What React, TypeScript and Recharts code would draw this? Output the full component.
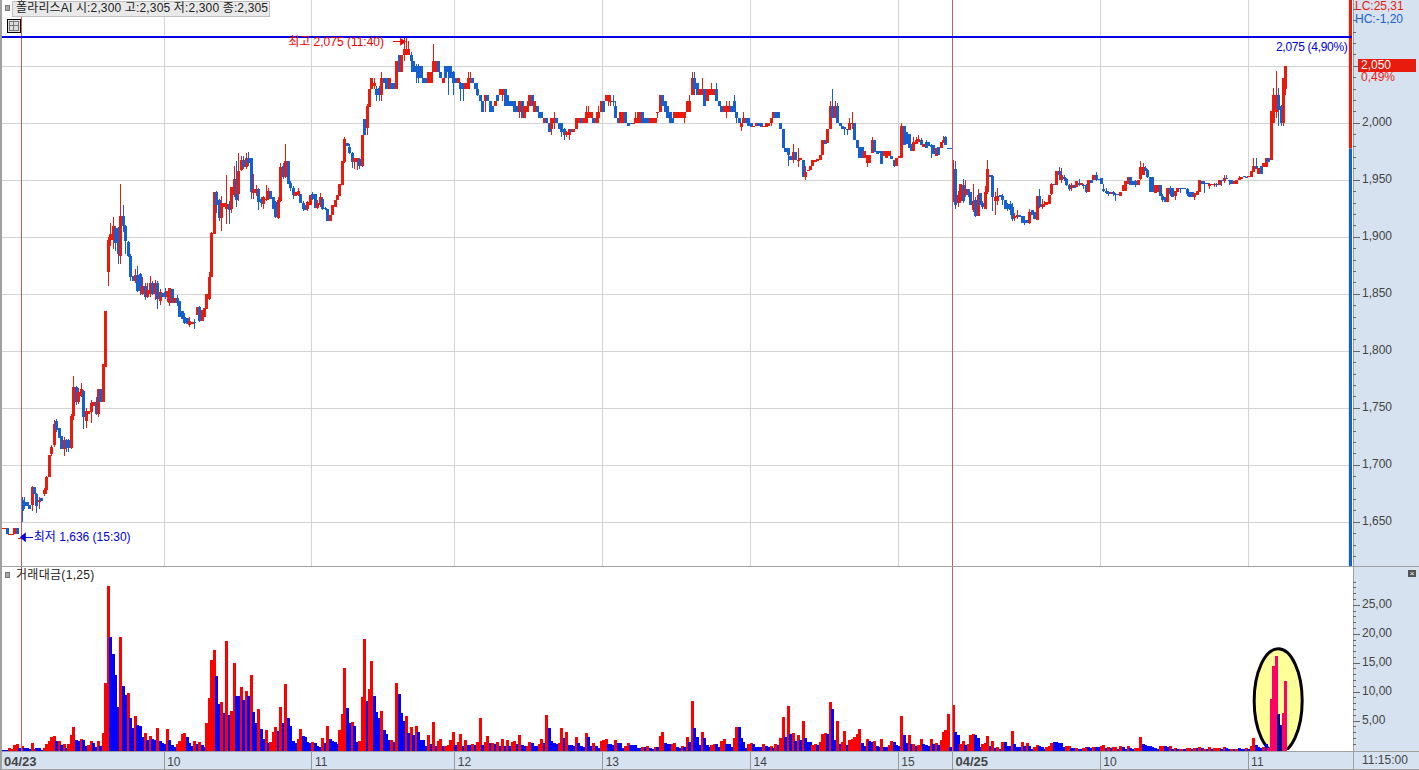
import { Bar, CartesianGrid, ComposedChart, ReferenceArea, ReferenceDot, ReferenceLine, XAxis, YAxis } from "recharts"

const WIDTH = 1419
const RED = "#e81b0c"
const BLUE = "#1560d0"
const FONT = '"Liberation Sans","Noto Sans CJK KR",sans-serif'

// candles: [open, close, high?, low?] - high/low default to the body
const prevDay = [[1645,1645],[1645,1645],[1645,1640],[1640,1640],[1640,1640],[1640,1645],[1645,1640],[1636,1636]]
const am09 = [
  [1670,1660,1672,1650],[1668,1664,1672,1662],[1668,1664],[1665,1662],[1665,1681,1682,1660],[1681,1675],[1675,1664,1676,1658],[1668,1670,1672,1662],[1671,1669],[1675,1678,1680,1673],
  [1678,1690,1691,1675],[1690,1709],[1710,1716,1718,1708],[1718,1736,1740,1716],[1739,1731,1741,1729],[1733,1724],[1726,1714],[1714,1722,1725,1708],[1722,1715,1723,1712],[1722,1715,1723,1712],
  [1715,1743,1745,1714],[1743,1769,1778,1740],[1769,1756,1770,1753],[1756,1764,1768,1754],[1761,1767,1772,1760],[1765,1742,1766,1732],[1739,1748,1750,1733],[1745,1748],[1747,1755,1757,1737],[1752,1756],
  [1756,1745,1760,1744],[1745,1767,1767,1742],[1767,1756],[1756,1789],[1786,1835],[1870,1898,1900,1857],[1898,1903,1913,1892],[1898,1910,1918,1890],[1908,1895,1910,1888],[1908,1885,1909,1877],
  [1884,1919,1947,1877],[1919,1910,1928,1905],[1910,1897,1911,1885],[1896,1884,1897,1883],[1884,1865,1885,1862],[1866,1862],[1862,1867,1872,1860],[1867,1853,1875,1852],[1868,1853,1869,1849],[1850,1857,1865,1849],
  [1857,1848,1860,1845],[1848,1854,1860,1847],[1850,1860,1866,1848],[1860,1850,1862,1849],[1850,1860,1863,1845],[1860,1846,1862,1837],[1844,1852,1855,1841],[1851,1848],
]
const am10 = [
  [1852,1848,1856,1846],[1848,1853,1853,1843],[1842,1856,1856,1840],[1855,1842],[1842,1847],[1847,1842,1849,1840],[1844,1830],[1835,1828],[1830,1825,1834,1824],[1829,1824],
  [1823,1827,1830,1821],[1824,1826],[1826,1825,1828,1820],[1832,1839],[1839,1827,1840,1826],[1827,1836],[1830,1838],[1837,1850],[1846,1865,1870,1845],[1865,1904,1905,1865],
  [1903,1940],[1940,1928,1941,1921],[1933,1917,1934,1914],[1917,1930,1936,1906],[1927,1930],[1925,1929,1955,1912],[1929,1924,1932,1912],[1925,1944,1944,1921],[1937,1951,1963,1935],[1951,1933,1967,1927],
  [1938,1958,1974,1932],[1959,1968,1971,1958],[1968,1962,1971,1960],[1962,1970,1974,1960],[1970,1965,1975,1963],[1970,1940,1970,1934],[1939,1942,1956,1934],[1939,1942,1946,1936],[1942,1931,1943,1924],[1934,1930,1935,1927],
  [1929,1935,1936,1925],[1933,1934,1946,1932],[1934,1941,1943,1933],[1941,1934],[1935,1925],[1931,1918,1932,1917],[1917,1933,1935,1916],[1932,1962,1965,1931],[1963,1953,1965,1951],[1953,1967,1982,1952],
  [1967,1947],[1948,1943,1949,1941],[1943,1937,1945,1934],[1936,1940],[1937,1941,1943,1936],[1938,1930],[1930,1925,1932,1923],[1928,1924],[1925,1931,1932,1923],[1928,1937],
]
const am11 = [
  [1938,1934,1940,1933],[1938,1926],[1926,1930,1933,1925],[1928,1935,1939,1927],[1934,1925,1935,1924],[1926,1925,1927,1924],[1925,1914],[1914,1920],[1920,1928],[1927,1933],
  [1933,1937],[1936,1947],[1946,1967],[1966,1986,1988,1965],[1983,1980],[1979,1974,1982,1973],[1974,1966,1975,1961],[1966,1970,1970,1960],[1966,1970,1970,1959],[1969,1963,1970,1960],
  [1963,1990,1990,1962],[2004,1990],[1996,2015,2017,1990],[2014,2030],[2030,2040],[2033,2035,2040,2030],[2030,2025,2033,2020],[2031,2025,2033,2020],[2025,2040,2045,2020],[2040,2035],
  [2040,2030],[2030,2040],[2035,2030],[2035,2030],[2030,2055],[2060,2045],[2045,2060],[2060,2065,2075,2055],[2060,2065,2076,2060],[2060,2065,2072,2060],
  [2060,2055,2063,2045],[2055,2045],[2050,2045,2052,2035],[2050,2040,2052,2035],[2050,2040],[2040,2035],[2040,2035],[2035,2045],[2035,2045],[2045,2055,2070,2045],
  [2045,2055],[2055,2045],[2045,2040],[2035,2040],[2050,2040],[2050,2045,2050,2025],[2050,2040],[2045,2035,2046,2025],
]
const pm12 = [
  [2040,2035],[2035,2040],[2035,2030,2036,2020],[2035,2030,2035,2020],[2030,2035],[2030,2040,2045,2030],[2035,2040,2045,2035],[2040,2035],[2035,2030],[2030,2025,2035,2024],
  [2025,2020],[2020,2010],[2020,2025,2025,2010],[2025,2020],[2020,2010],[2015,2010],[2015,2020],[2025,2020],[2025,2030],[2025,2030,2030,2020],
  [2030,2015],[2025,2015],[2020,2015],[2020,2015],[2020,2010],[2015,2010],[2010,2020,2020,2005],[2020,2005],[2005,2015],[2010,2015,2020,2010],
  [2015,2025],[2025,2015],[2010,2020],[2015,2010],[2010,2005],[2010,2005],[2000,2005],[2005,2000],[2000,1992],[1995,2005,2005,1990],
  [2000,2005,2010,1995],[2005,2000],[2000,1995],[2000,1992,2000,1988],[1995,1990,1996,1985],[1990,1992,1993,1988],[1990,1995,1995,1985],[1995,1992],[1992,1995],[1995,2005],
  [2000,2005],[2005,2000],[2000,2005],[2000,2010,2015,2000],[2005,2010,2015,2005],[2005,2010],[2005,2000],[2000,2005,2010,2000],[2005,2010,2015,2000],[2010,2020],
]
const pm13 = [
  [2020,2010],[2020,2025],[2020,2025,2025,2015],[2020,2020,2025,2015],[2020,2019,2025,2015],[2015,2005,2020,2005],[2005,2000],[2000,2010],[2000,2010],[2010,2000],
  [2000,1998],[2000,1999],[2000,2000],[2000,2005,2010,2000],[2000,2010],[2005,2005,2010,2000],[2010,2000],[2005,2000],[2005,2000],[2000,2005],
  [2000,2005],[2000,2005],[2010,2010,2010,2005],[2010,2025],[2025,2015],[2020,2010],[2015,2005],[2010,2000],[2005,2000],[2005,2010],
  [2005,2010],[2005,2010],[2005,2010],[2005,2010,2010,2000],[2010,2020],[2010,2020,2025,2010],[2025,2040,2045,2025],[2040,2030,2045,2025],[2035,2025],[2025,2030],
  [2025,2030,2040,2025],[2030,2015],[2020,2030],[2025,2030],[2025,2030,2035,2025],[2025,2030],[2030,2020,2035,2020],[2020,2015],[2015,2010],[2010,2015],
  [2010,2015,2020,2005],[2010,2015,2020,2010],[2015,2010],[2020,2010,2025,2010],[2010,2005,2010,2000],[2005,2000],[1997,2000,2000,1993],[2000,2005,2010,2000],[2005,2000],[2005,1998],
]
const pm14 = [
  [2000,1997],[1997,1998],[1998,2000],[2000,1998],[2000,1997],[1997,1998],[1997,2000],[1998,2000],[2000,2005,2005,1998],[2005,2010],
  [2010,2005],[2010,2005],[2000,1995],[1995,1978],[1978,1975],[1978,1972,1978,1963],[1971,1968],[1968,1975,1982,1965],[1975,1968],[1967,1968,1978,1962],
  [1968,1970],[1968,1953],[1953,1957,1963,1950],[1958,1959],[1959,1963],[1963,1968],[1966,1968],[1967,1969],[1968,1972],[1972,1985],
  [1985,1982],[1983,1995],[1995,2015,2020,1995],[2015,2005,2030,2005],[2005,2015,2020,2005],[2015,2000,2018,2000],[2000,1998],[1998,1995],[1997,1995,1997,1990],[1995,1994,1995,1990],
  [1994,2000,2005,1994],[2000,2000,2010,1995],[2000,1985],[1985,1978],[1979,1970],[1979,1970],[1970,1976],[1965,1972,1972,1962],[1965,1972],[1974,1985,1988,1974],
  [1985,1975],[1976,1973],[1976,1974],[1976,1964],[1971,1976],[1970,1976],[1971,1976],[1971,1969],[1968,1963,1968,1962],[1963,1970],
]
const pm15 = [
  [1970,1971],[1970,1998,2000,1970],[1998,1981],[1992,1982],[1991,1978],[1982,1976],[1976,1984,1988,1976],[1982,1985,1988,1982],[1984,1986,1990,1984],[1985,1981,1987,1981],
  [1979,1982],[1984,1978,1985,1978],[1984,1980],[1981,1979,1982,1970],[1981,1973],[1971,1978],[1979,1972],[1978,1984],[1984,1985,1989,1983],[1988,1981,1989,1981],
  [1978.5,1978],[1978.5,1978],
]
const next09 = [
  [1934,1960,1968,1931],[1960,1928,1967,1925],[1930,1937,1941,1927],[1932,1947,1947,1930],[1946,1932,1951,1930],[1937,1942,1950,1935],[1942,1937,1942,1935],[1940,1928],[1924,1932,1947,1922],[1933,1919,1935,1918],
  [1919,1937,1942,1919],[1939,1928],[1930,1927,1932,1925],[1925,1940,1945,1925],[1940,1960,1968,1938],[1955,1953],[1954,1935,1955,1923],[1932,1935,1940,1920],[1932,1936,1943,1928],[1937,1935],
  [1936,1933,1938,1928],[1933,1925],[1929,1925,1930,1923],[1929,1924,1932,1920],[1927,1916,1930,1914],[1917,1919,1921,1914],[1918,1920,1924,1916],[1920,1918],[1919,1913],[1915,1913,1919,1911],
  [1915,1913],[1913,1922,1925,1912],[1924,1920],[1922,1916],[1915,1936],[1936,1927,1942,1926],[1927,1929,1934,1925],[1928,1929,1932,1927],[1928,1931],[1929,1937],
  [1938,1947,1948,1937],[1947,1946],[1946,1958],[1958,1955,1962,1950],[1950,1955,1961,1948],[1953,1951,1955,1949],[1951,1946,1952,1945],[1946,1942,1947,1941],[1943,1946,1948,1941],[1946,1943],
  [1944,1949],[1948,1946,1951,1945],[1946,1948],[1946,1945,1947,1942],[1946,1940,1947,1939],[1940,1950],[1950,1948],[1950,1955],[1955,1950,1957,1949],[1951.5,1951],
]
const next10 = [
  [1952,1947],[1942,1941,1947,1940],[1941,1939,1943,1938],[1940,1938,1941,1936],[1938,1940],[1940,1938,1941,1936],[1938,1937,1939,1932],[1938,1937],[1936,1940],[1941,1946],
  [1941,1949],[1947,1953],[1953,1946],[1949,1946],[1949,1946,1950,1944],[1946,1950],[1951,1962,1967,1950],[1955,1962,1965,1955],[1961,1958,1963,1958],[1959,1953,1960,1952],
  [1953,1940],[1953,1940],[1939,1946],[1940,1946],[1946,1936],[1936,1933,1938,1931],[1935,1931],[1931,1943],[1943,1938,1945,1936],[1943,1935],
  [1936,1941,1941,1933],[1940,1943],[1943,1942,1943,1939],[1943,1942],[1943,1942],[1942,1938,1943,1936],[1940,1935],[1940,1935],[1935,1939,1939,1933],[1937,1941],
  [1940,1950],[1949,1947],[1948,1947,1949,1939],[1947.5,1947],[1945,1947,1948,1942],[1946,1947],[1946,1947,1948,1944],[1947,1946,1948,1944],[1946,1950],[1950,1949,1950,1945],
  [1949,1952,1955,1948],[1952,1951,1955,1951],[1950,1949,1950,1946],[1950,1947],[1947,1949],[1947,1950],[1950,1952,1954,1950],[1951,1953],[1954,1953],[1953,1952],
]
const next11 = [
  [1953,1954],[1953,1958],[1957,1963,1970,1957],[1963,1960,1970,1960],[1956,1961],[1963,1956],[1962,1965],[1962,1970],[1970,1966],[1968,2011],
  [2000,2025,2031,2000],[2010,2025,2046,2005],[2025,2012,2031,1998],[2015,2000,2016,1998],[2000,2040,2040,1998],[2030,2050,2050,2025],
]

// traded value per candle, positive = up bar (red), negative = down bar (blue)
const vol09 = [
  -.1,-.1,-.1,.3,.2,.9,1,-.3,.7,-.3,-.3,-.2,1.2,.2,-.3,-.3,-.1,.3,1,1.6,
  2.3,2.5,-1.6,1.6,-.9,1,-.3,1,2.6,4,-1.7,-1.6,1.9,-1.7,-.7,.9,1.6,-1.2,-.5,1.6,
  -.7,2.9,11.6,28.3,-19.6,-16.6,-13,-7.5,19.6,-11.1,-9.5,9.9,-5.5,-3.8,5.9,-4.3,-4.2,-2.3,2.9,-1.7,
  2.4,-1.9,-1.7,3.8,-1.6,-1.2,
]
const vol10 = [
  -1,3.6,-1.7,-.9,-.5,1,1.6,2.8,2.9,-2.3,-1.2,-.7,1.6,-1,1.4,-.9,-.5,4.7,9,15.6,
  17.3,-12.8,-8,8.3,-6.4,18.9,-6.1,6.8,15,-9.4,-9.4,10.9,-8.7,10.2,-9.4,13,-6.6,-4.7,7.1,-3.6,
  -1.9,3.5,-1.2,1.4,3.1,4,-3.3,7.5,-4.7,11.4,-5.5,-4.2,-1.6,-1.2,1.9,3.6,-2.4,-2.3,-1.4,-1.2,
]
const vol11 = [
  1.4,-1.2,-.7,-.5,2.1,-1.2,4.2,-1.9,-1.6,-1.4,-1,3.5,6.2,14.2,-7.3,-4.7,4.9,-4.2,-1.4,1.6,
  9.2,19.1,-8.5,10.6,15.3,-9.4,-6.6,-5.5,6.8,-3.5,-2.8,-1.7,1.7,-1.4,11.6,-9.7,-6.4,-5,5.9,-2.9,
  4,-2.6,4.2,-3.1,-1.7,-1.7,-.7,2.6,-1,4.9,-.7,1.6,1.9,-.7,.7,.9,1.7,3.1,
]
const vol12 = [
  -.9,1.4,2.8,-.7,1.7,-.9,-.9,1,-.9,1.4,5.5,-.9,1.4,2.4,-1.2,1.2,-1,1.4,-.7,1.9,
  -.7,1.7,-.7,1.4,1.6,-1,2.6,-.9,-.7,.7,1.4,-1.2,-.7,-.7,1,1.9,-1.2,6.1,-3.8,-1.6,
  -1.2,-1,1.2,3.8,-2.1,3.1,-.9,-.9,-.7,2.3,-1.2,-.7,-.5,2.9,-2.3,-.7,1.2,-.7,-.3,1.6,
]
const vol13 = [
  1.7,1.9,-1,-1,-.9,1.7,-1.2,-1.2,-.3,.7,1.2,-.9,-.9,-.9,-.3,-.3,.5,-.5,.7,-.3,
  -.2,.5,-.5,2.4,3.1,-1.2,-1,-1,1,1.2,-.5,-.3,.7,-.5,2.3,-1.4,8.5,-3.8,-2.3,-.9,
  3.1,-2.1,-.9,-.5,.9,1,-1,-.5,1.6,1.9,-1,-1,-.5,2.1,4,-4,-2.1,-1.4,-.3,1,
]
const vol14 = [
  1.2,-1,-.5,-.5,-.5,1,-.7,-.5,.7,-.3,1,-.9,2.1,5.7,-2.3,7.6,-2.8,2.9,-1.6,2.6,
  -1.7,5,-2.1,-1.4,-1.4,.9,1,-.9,1.4,2.8,2.9,-2.8,8.3,-7.1,-1.7,5,-1,1.4,3.3,-.9,
  1.7,1.9,2.3,2.8,3.6,-1.2,-.7,1.9,-1.6,-1.4,1.6,-.7,-.5,1.9,-.5,-.5,.9,1.6,-1.4,-.9,
]
const vol15 = [-.7,5.9,-2.6,-1.2,2.6,-1,1,-.7,.9,1.9,-1,-.9,-.7,1.9,-1,1.2,-.9,1.7,3.1,3.5,6.2,-.5]
const volNext09 = [
  7.8,-3.1,-2.6,1,1.6,-.9,1,2.6,2.8,-2.6,-2.1,-.5,1,1.2,2.4,-.7,1.6,-.3,.5,-.2,
  1.4,-1.4,-.7,-.7,3.3,-1,-.5,-.5,1.4,-.7,1.2,-.7,-.2,.5,.9,-.7,-.5,-.2,.5,.7,
  1.2,-1.4,-1.4,-1.2,-1.2,-.5,.7,.7,-.3,-.3,.3,-.2,-.2,.3,.5,-.5,-.3,.5,-.5,-.5,
]
const volNext10 = [
  .7,.9,-.3,.5,-.3,.5,.5,-.2,.7,-.5,-.2,.7,-.3,-.2,.3,.3,2.3,-1,-.9,-.7,
  -.7,-.5,-.3,-.2,.7,.7,-.7,-.5,.7,-.2,.3,-.2,.2,.2,-.2,.3,.3,-.2,.3,-.3,
  .5,-.3,.2,-.2,.5,-.2,.3,.3,.3,-.2,.5,-.3,-.2,.2,-.2,.2,-.3,-.2,-.2,.3,
]
const volNext11 = [-.2,.7,2.1,-.9,-.5,-.3,.5,-1,.3,8.8,14.6,16.3,-6.2,-4.3,6.4,12]

const gridTimes = [8, 66, 126, 184, 244, 304, 364, 386, 446, 506]
const timeLabels = { 1: "04/23", 66: "10", 126: "11", 184: "12", 244: "13", 304: "14", 364: "15", 386: "04/25", 446: "10", 506: "11" }
const dayLabels = [1, 386]
const dayStarts = [8, 386]
const timeTicks = [1, 66, 126, 184, 244, 304, 364, 386, 446, 506]
const priceGrid = [1650, 1700, 1750, 1800, 1850, 1900, 1950, 2000, 2050]
const priceLabels = [1650, 1700, 1750, 1800, 1850, 1900, 1950, 2000]
const priceTicks = [1620,1630,1640,1650,1660,1670,1680,1690,1700,1710,1720,1730,1740,1750,1760,1770,1780,1790,1800,1810,1820,1830,1840,1850,1860,1870,1880,1890,1900,1910,1920,1930,1940,1950,1960,1970,1980,1990,2000,2010,2020,2030,2040,2050,2060,2070,2080,2090,2100]
const valueGrid = [5, 10, 15, 20, 25]
const valueTicks = [1,2,3,4,5,6,7,8,9,10,11,12,13,14,15,16,17,18,19,20,21,22,23,24,25,26,27,28,29]

const candleRows = [...prevDay, ...am09, ...am10, ...am11, ...pm12, ...pm13, ...pm14, ...pm15, ...next09, ...next10, ...next11]
const volumes = [...vol09, ...vol10, ...vol11, ...vol12, ...vol13, ...vol14, ...vol15, ...volNext09, ...volNext10, ...volNext11]

const chartData = candleRows.map((row, i) => {
  const [open, close] = row
  const high = row[2] ?? Math.max(open, close)
  const low = row[3] ?? Math.min(open, close)
  return { i, open, close, high, low, range: [low, high], value: Math.abs(volumes[i] ?? 0), up: (volumes[i] ?? 0) > 0 }
})

const X_DOMAIN = [0.17, 548.17]
const PRICE_DOMAIN = [1611.7, 2108.2]
const PRICE_H = 566
const PX_PER_WON = PRICE_H / (PRICE_DOMAIN[1] - PRICE_DOMAIN[0])
const PLOT_RIGHT = 1352
const VALUE_DOMAIN = [-0.15, 31.6]
const VOL_PLOT_BOTTOM = 184
const highlightFrom = 514

function Candle(props: any) {
  const { x, y, width, payload } = props
  const cx = Math.round(x + width / 2 + 0.5)
  const yOf = (v: number) => y + (payload.high - v) * PX_PER_WON
  const up = payload.close >= payload.open
  const color = up ? RED : BLUE
  const top = Math.round(yOf(Math.max(payload.open, payload.close)))
  const bottom = Math.round(yOf(Math.min(payload.open, payload.close)))
  return (
    <g>
      <rect x={cx} y={Math.round(yOf(payload.high))} width={1} height={Math.max(1, Math.round(yOf(payload.low)) - Math.round(yOf(payload.high)))} fill={color} />
      <rect x={cx - 1} y={top} width={3} height={Math.max(1, bottom - top)} fill={color} />
    </g>
  )
}

function VolumeBar(props: any) {
  const { x, y, width, height, payload } = props
  const cx = Math.round(x + width / 2 + 0.5)
  const fill = payload.i >= highlightFrom ? (payload.up ? "#ff0066" : "#000099") : payload.up ? "#ff0000" : "#0000ff"
  const top = Math.round(y)
  return <rect x={cx - 1} y={top} width={3} height={Math.max(1, Math.round(y + height) - top + 1)} fill={fill} />
}

function PriceTick(props: any) {
  const { y, payload } = props
  const major = payload.value % 50 === 0
  return (
    <g>
      <line x1={PLOT_RIGHT + 1} x2={PLOT_RIGHT + (major ? 8 : 4)} y1={y} y2={y} stroke="#666" />
      {priceLabels.includes(payload.value) && <text x={1362} y={y + 3} fontSize={12} fill="#444" fontFamily={FONT}>{payload.value.toLocaleString("en-US")}</text>}
    </g>
  )
}

function ValueTick(props: any) {
  const { y, payload } = props
  const major = valueGrid.includes(payload.value)
  return (
    <g>
      <line x1={PLOT_RIGHT + 1} x2={PLOT_RIGHT + (major ? 8 : 4)} y1={y} y2={y} stroke="#666" />
      {major && <text x={1362} y={y + 3} fontSize={12} fill="#444" fontFamily={FONT}>{payload.value},00</text>}
    </g>
  )
}

function TimeTick(props: any) {
  const { x, y, payload } = props
  const bold = dayLabels.includes(payload.value)
  const showLine = payload.value !== 1
  return (
    <g>
      {showLine && <line x1={x} x2={x} y1={y} y2={y + 19} stroke="#999" />}
      <text x={bold && !showLine ? x : x + 3} y={y + 14} fontSize={bold ? 13 : 12} fontWeight={bold ? 700 : 400} fill="#444" fontFamily={FONT}>
        {(timeLabels as any)[payload.value]}
      </text>
    </g>
  )
}

function Arrow({ cx, cy, text, color, side }: any) {
  // small annotation: label text with an arrow pointing at the extreme candle
  if (side === "left") {
    return (
      <g>
        <text x={cx - 119} y={cy + 8} fontSize={12} fill={color} fontFamily={FONT}>{text}</text>
        <line x1={cx - 14} x2={cx - 2} y1={cy + 4} y2={cy + 4} stroke={color} />
        <polygon points={`${cx - 1},${cy + 4} ${cx - 7},${cy} ${cx - 7},${cy + 8}`} fill={color} />
      </g>
    )
  }
  return (
    <g>
      <line x1={cx + 1} x2={cx + 13} y1={cy - 1} y2={cy - 1} stroke={color} />
      <polygon points={`${cx},${cy - 1} ${cx + 6},${cy - 6} ${cx + 6},${cy + 4}`} fill={color} />
      <text x={cx + 14} y={cy + 3} fontSize={12} fill={color} fontFamily={FONT}>{text}</text>
    </g>
  )
}

function Highlight({ cx, cy }: any) {
  return (
    <g>
      <clipPath id="vol-clip">
        <rect x={cx - 40} y={0} width={80} height={VOL_PLOT_BOTTOM} />
      </clipPath>
      <ellipse cx={cx} cy={cy} rx={24} ry={52} fill="#ffff99" stroke="#000" strokeWidth={3} clipPath="url(#vol-clip)" />
    </g>
  )
}

export default function App() {
  const abs = (left: number, top: number, extra: any = {}) => ({ position: "absolute" as const, left, top, fontFamily: FONT, fontSize: 12, lineHeight: "13px", whiteSpace: "nowrap" as const, ...extra })
  const volMargin = { top: 1, right: 0, bottom: 0, left: 2 }
  return (
    <div style={{ position: "absolute", left: 0, top: 0, width: WIDTH, height: 770, overflow: "hidden", background: "#fff" }}>
      <style>{`svg line, svg rect { shape-rendering: crispEdges; }`}</style>

      <div style={{ position: "absolute", left: 1354, top: 0, width: 65, height: 770, background: "#d6e2f0" }} />
      <div style={{ position: "absolute", left: 0, top: 752, width: WIDTH, height: 18, background: "#d6e2f0" }} />
      <div style={{ position: "absolute", left: 0, top: 0, width: 2, height: 770, background: "#a0a0a0" }} />
      <div style={{ position: "absolute", left: 0, top: 566, width: WIDTH, height: 1, background: "#a0a0a0" }} />
      <div style={{ position: "absolute", left: 0, top: 751, width: WIDTH, height: 1, background: "#a0a0a0" }} />
      <div style={{ position: "absolute", left: 0, top: 769, width: WIDTH, height: 1, background: "#a0a0a0" }} />
      <div style={{ position: "absolute", left: 1353, top: 0, width: 1, height: 770, background: "#a0a0a0" }} />

      <div style={{ position: "absolute", left: 0, top: 0 }}>
        <ComposedChart width={WIDTH} height={PRICE_H} data={chartData} margin={{ top: 0, right: 0, bottom: 0, left: 2 }}>
          <CartesianGrid stroke="#d3d3d3" horizontalValues={priceGrid} verticalValues={gridTimes} />
          <XAxis dataKey="i" type="number" domain={X_DOMAIN} allowDataOverflow hide />
          <YAxis orientation="right" width={67} domain={PRICE_DOMAIN} allowDataOverflow ticks={priceTicks} interval={0} axisLine={false} tickLine={false} tick={<PriceTick />} />
          {dayStarts.map((d) => (
            <ReferenceLine key={d} x={d} stroke="#d05a5a" />
          ))}
          <ReferenceArea x1={546.9} x2={548.17} y1={1978} y2={2108.2} fill={RED} fillOpacity={1} stroke="none" />
          <ReferenceArea x1={546.9} x2={548.17} y1={1611.7} y2={1978} fill={BLUE} fillOpacity={1} stroke="none" />
          <Bar dataKey="range" barSize={3} isAnimationActive={false} shape={<Candle />} />
          <ReferenceDot x={163} y={2075} ifOverflow="visible" shape={(p: any) => <Arrow cx={p.cx + 4} cy={p.cy} text="최고 2,075 (11:40)" color="#f00000" side="left" />} />
          <ReferenceDot x={7} y={1636} ifOverflow="visible" shape={(p: any) => <Arrow cx={p.cx + 1} cy={p.cy} text="최저 1,636 (15:30)" color="#0000e0" side="right" />} />
          <ReferenceLine y={2076} stroke="#0000e6" strokeWidth={2} />
        </ComposedChart>
      </div>

      {/* grid and highlight sit in their own chart so the bars draw over them */}
      <div style={{ position: "absolute", left: 0, top: 566 }}>
        <ComposedChart width={WIDTH} height={204} data={chartData} margin={volMargin}>
          <CartesianGrid stroke="#d3d3d3" horizontalValues={valueGrid} verticalValues={gridTimes} />
          <XAxis dataKey="i" type="number" domain={X_DOMAIN} allowDataOverflow height={19} tick={false} axisLine={false} tickLine={false} />
          <YAxis orientation="right" width={67} domain={VALUE_DOMAIN} allowDataOverflow tick={false} axisLine={false} tickLine={false} />
          <ReferenceDot x={518.2} y={8.5} ifOverflow="visible" shape={(p: any) => <Highlight cx={p.cx} cy={p.cy} />} />
        </ComposedChart>
      </div>
      <div style={{ position: "absolute", left: 0, top: 566 }}>
        <ComposedChart width={WIDTH} height={204} data={chartData} margin={volMargin}>
          <XAxis dataKey="i" type="number" domain={X_DOMAIN} allowDataOverflow height={19} ticks={timeTicks} interval={0} axisLine={false} tickLine={false} tickSize={0} tickMargin={1} tick={<TimeTick />} />
          <YAxis orientation="right" width={67} domain={VALUE_DOMAIN} allowDataOverflow ticks={valueTicks} interval={0} axisLine={false} tickLine={false} tick={<ValueTick />} />
          {dayStarts.map((d) => (
            <ReferenceLine key={d} x={d} stroke="#d05a5a" />
          ))}
          <Bar dataKey="value" barSize={3} isAnimationActive={false} shape={<VolumeBar />} />
        </ComposedChart>
      </div>

      {/* header and read-outs */}
      <div style={abs(5, 5, { width: 5, height: 6, background: "#a8a8a8", border: "1px solid #777", boxSizing: "border-box" })} />
      <div style={abs(12, 1, { height: 14, padding: "0 1px 0 3px", background: "#e9e9e9", border: "1px solid #c0c0c0", color: "#222", letterSpacing: 0.15 })}>폴라리스AI 시:2,300 고:2,305 저:2,300 종:2,305</div>
      <div style={abs(7, 19, { width: 14, height: 14, border: "1px solid #000", boxSizing: "border-box", background: "#ddd" })}>
        <div style={{ margin: 1, width: 10, height: 10, border: "1px solid #777", boxSizing: "border-box", background: "linear-gradient(#777,#777) 0 3px/100% 1px no-repeat, linear-gradient(#777,#777) 3px 0/1px 100% no-repeat" }} />
      </div>
      <div style={abs(1276, 41, { color: "#0000e0", letterSpacing: -0.3 })}>2,075 (4,90%)</div>
      <div style={abs(1355, 0, { color: RED })}>LC:25,31</div>
      <div style={abs(1355, 13, { color: BLUE })}>HC:-1,20</div>
      <div style={abs(1358, 59, { width: 58, height: 13, background: RED, color: "#fff", paddingLeft: 3, boxSizing: "border-box" })}>2,050</div>
      <div style={abs(1361, 72, { color: RED, lineHeight: "11px" })}>0,49%</div>
      <div style={abs(5, 572, { width: 5, height: 6, background: "#a8a8a8", border: "1px solid #777", boxSizing: "border-box" })} />
      <div style={abs(16, 569, { color: "#222", letterSpacing: 0.3 })}>거래대금(1,25)</div>
      <div style={abs(1408, 570, { width: 8, height: 7, background: "#555", color: "#fff", fontSize: 8, lineHeight: "7px", textAlign: "center" })}>×</div>
      <div style={abs(1362, 754, { color: "#444" })}>11:15:00</div>
    </div>
  )
}
